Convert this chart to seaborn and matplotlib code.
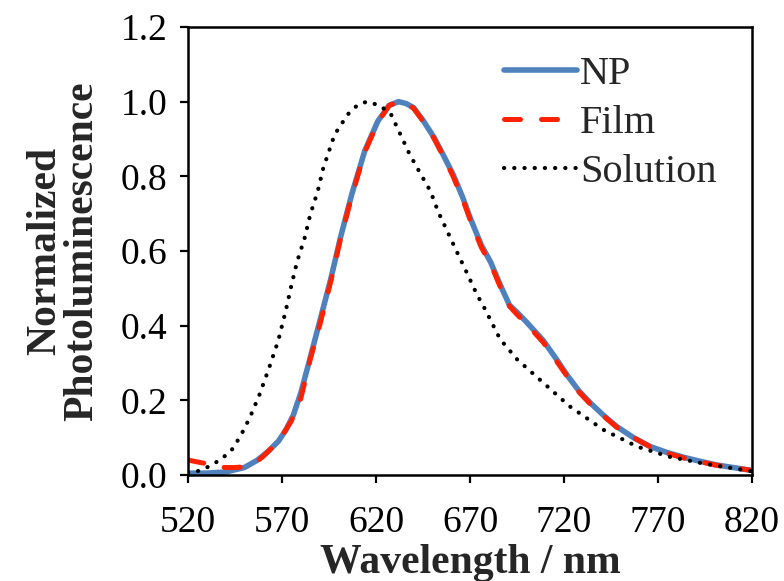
import numpy as np
import pandas as pd
import matplotlib
matplotlib.use("Agg")
import matplotlib.pyplot as plt
import seaborn as sns

# ---- data ----
np_wl = [520, 530, 540, 550, 557, 563, 568, 572, 576, 580, 584, 590, 596, 601, 607,
         614, 621, 627, 632, 636, 640, 645, 651, 656, 661, 666, 670, 676, 681, 686,
         691, 695, 700, 709, 716, 722, 728, 734, 741, 748, 757, 766, 775, 784, 793,
         801, 810, 819]
np_val = [0.005, 0.005, 0.008, 0.02, 0.04, 0.065, 0.09, 0.12, 0.16, 0.22, 0.295, 0.41,
          0.526, 0.634, 0.75, 0.868, 0.948, 0.99, 1.0, 0.995, 0.984, 0.95, 0.903, 0.855,
          0.805, 0.745, 0.69, 0.616, 0.57, 0.51, 0.455, 0.436, 0.41, 0.36, 0.31, 0.265,
          0.225, 0.193, 0.16, 0.13, 0.10, 0.076, 0.06, 0.047, 0.036, 0.027, 0.02, 0.013]

film_wl = [520, 525, 530, 535, 540, 545, 550, 555, 560, 565, 570, 575, 580, 585, 590,
           596, 601, 607, 614, 621, 627, 632, 636, 640, 645, 651, 656, 661, 666, 670,
           676, 681, 686, 691, 695, 700, 709, 716, 722, 728, 734, 741, 748, 757, 766,
           775, 784, 793, 801, 810, 820]
film_val = [0.04, 0.035, 0.03, 0.022, 0.02, 0.02, 0.022, 0.03, 0.05, 0.075, 0.105,
            0.145, 0.205, 0.31, 0.40, 0.52, 0.63, 0.745, 0.865, 0.945, 0.99, 1.0, 0.995,
            0.982, 0.948, 0.9, 0.852, 0.8, 0.74, 0.685, 0.61, 0.565, 0.505, 0.452, 0.43,
            0.405, 0.355, 0.305, 0.262, 0.222, 0.19, 0.158, 0.128, 0.1, 0.075, 0.058,
            0.045, 0.035, 0.026, 0.02, 0.012]

sol_wl = [520, 525, 530, 537, 543, 548, 553, 558, 563, 568, 572, 575, 578, 582, 585,
          589, 592, 598, 605, 610, 615, 622, 628, 633, 638, 644, 649, 653, 658, 663,
          668, 674, 677, 686, 695, 709, 723, 741, 759, 776, 794, 810, 820]
sol_val = [0.005, 0.01, 0.02, 0.04, 0.065, 0.105, 0.155, 0.215, 0.285, 0.36, 0.44,
           0.508, 0.571, 0.634, 0.697, 0.76, 0.823, 0.912, 0.966, 0.99, 1.0, 0.99,
           0.966, 0.912, 0.858, 0.804, 0.76, 0.706, 0.652, 0.598, 0.545, 0.48, 0.454,
           0.364, 0.31, 0.247, 0.184, 0.121, 0.076, 0.049, 0.031, 0.018, 0.01]

x_ticks = [520, 570, 620, 670, 720, 770, 820]
y_ticks = [0.0, 0.2, 0.4, 0.6, 0.8, 1.0, 1.2]

df = pd.concat([
    pd.DataFrame({"wl": np_wl, "pl": np_val, "series": "NP"}),
    pd.DataFrame({"wl": film_wl, "pl": film_val, "series": "Film"}),
    pd.DataFrame({"wl": sol_wl, "pl": sol_val, "series": "Solution"}),
])

sns.set_style("white")
plt.rcParams["font.family"] = "serif"
plt.rcParams["font.serif"] = ["Liberation Serif", "DejaVu Serif"]

fig = plt.figure(figsize=(7.84, 5.81), dpi=100)
ax = fig.add_axes([188 / 784, 1 - 475 / 581, (752 - 188) / 784, (475 - 27) / 581])

styles = {
    "NP": dict(color="#4F81BD", lw=4.0, ls="-"),
    "Film": dict(color="#FF2200", lw=3.6, ls=(0, (3.2, 4.2))),
    "Solution": dict(color="black", lw=3.0, ls=(0, (0.05, 2.4))),
}
for name in ["NP", "Film", "Solution"]:
    st = styles[name]
    sub = df[df["series"] == name]
    sns.lineplot(data=sub, x="wl", y="pl", ax=ax, color=st["color"],
                 linewidth=st["lw"], label=name)
    line = ax.lines[-1]
    line.set_linestyle(st["ls"])
    line.set_dash_capstyle("round")
    line.set_solid_capstyle("round")

ax.set_xlim(520, 820)
ax.set_ylim(0, 1.2)
ax.set_xticks(x_ticks)
ax.set_xticklabels([str(t) for t in x_ticks])
ax.set_yticks(y_ticks)
ax.set_yticklabels([f"{t:.1f}" for t in y_ticks])

for sp in ax.spines.values():
    sp.set_visible(True)
    sp.set_color("black")
    sp.set_linewidth(1.8)

ax.tick_params(axis="both", direction="out", length=6, width=1.6, color="black",
               labelsize=27, labelcolor="black", bottom=True, left=True)
ax.tick_params(axis="x", pad=16)
ax.tick_params(axis="y", pad=9)

ax.set_xlabel("Wavelength / nm", fontsize=30, fontweight="bold", labelpad=3)
ax.set_ylabel("Normalized\nPhotoluminescence", fontsize=30, fontweight="bold",
              labelpad=14, linespacing=0.95)

leg = ax.legend(loc="upper right", bbox_to_anchor=(0.98, 0.99), frameon=False,
                fontsize=29, handlelength=1.8, handletextpad=0.08,
                labelspacing=0.3, borderaxespad=0.2)
for lh, name in zip(leg.get_lines(), ["NP", "Film", "Solution"]):
    lh.set_linestyle(styles[name]["ls"])
    lh.set_dash_capstyle("round")

fig.savefig("out.png", dpi=100)
